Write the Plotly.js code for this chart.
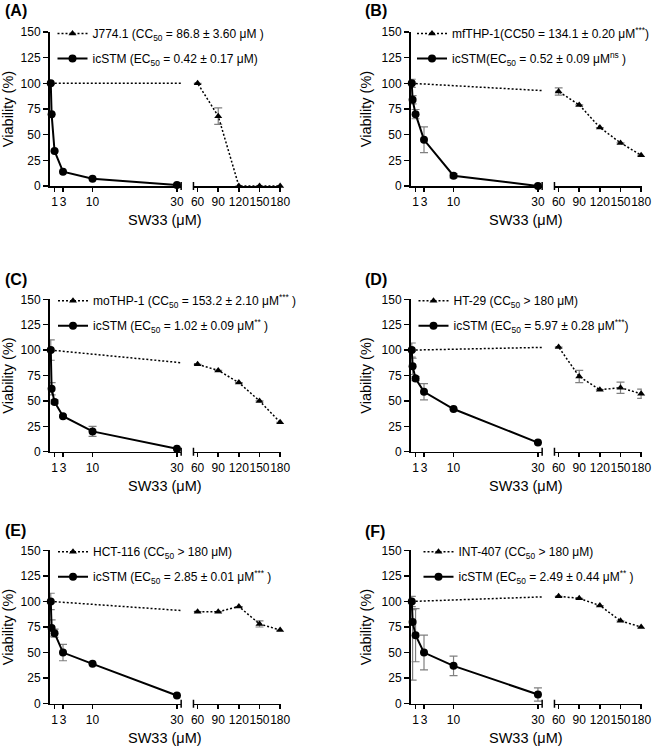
<!DOCTYPE html>
<html><head><meta charset="utf-8">
<script src="https://cdn.plot.ly/plotly-3.0.1.min.js"></script>
<style>html,body{margin:0;padding:0;background:#fff}#chart{width:662px;height:747px}</style>
</head><body><div id="chart"></div>
<script>
// ---------- data ----------
const icConc = [0.1, 0.3, 1, 3, 10, 30];          // icSTM concentrations (µM)
const hostConc = [0.1, 60, 90, 120, 150, 180];   // host-cell concentrations (µM)
const leftTicks = [1, 3, 10, 30];
const rightTicks = [60, 90, 120, 150, 180];
const yTicks = [0, 25, 50, 75, 100, 125, 150];
const panelLabels = ['(A)', '(B)', '(C)', '(D)', '(E)', '(F)'];

const hostNames = [
  'J774.1 (CC<sub>50</sub> = 86.8 ± 3.60 μM )',
  'mfTHP-1(CC50 = 134.1 ± 0.20 μM<sup>***</sup>)',
  'moTHP-1 (CC<sub>50</sub> = 153.2 ± 2.10 μM<sup>***</sup> )',
  'HT-29 (CC<sub>50</sub> &gt; 180 μM)',
  'HCT-116 (CC<sub>50</sub> &gt; 180 μM)',
  'INT-407 (CC<sub>50</sub> &gt; 180 μM)'
];
const icNames = [
  'icSTM (EC<sub>50</sub> = 0.42 ± 0.17 μM)',
  'icSTM(EC<sub>50</sub> = 0.52 ± 0.09 μM<sup>ns</sup> )',
  'icSTM (EC<sub>50</sub> = 1.02 ± 0.09 μM<sup>**</sup> )',
  'icSTM (EC<sub>50</sub> = 5.97 ± 0.28 μM<sup>***</sup>)',
  'icSTM (EC<sub>50</sub> = 2.85 ± 0.01 μM<sup>***</sup> )',
  'icSTM (EC<sub>50</sub> = 2.49 ± 0.44 μM<sup>**</sup> )'
];

// host-cell viability (%) and SEM
const hostA = [100, 100, 68, 0, 0, 0];      const hostErrA = [0, 0, 8, 0, 0, 0];
const hostB = [100, 92, 79, 57, 42, 30];    const hostErrB = [0, 3.5, 0, 0, 0, 0];
const hostC = [100, 86, 80, 68, 50, 29];    const hostErrC = [0, 0, 0, 0, 0, 0];
const hostD = [100, 103, 74, 61, 63, 57];   const hostErrD = [0, 0, 6, 0, 5.5, 4.5];
const hostE = [100, 90, 90, 95, 78, 72];    const hostErrE = [0, 0, 0, 0, 3, 0];
const hostF = [100, 105, 103, 96, 81, 75];  const hostErrF = [0, 0, 0, 0, 0, 0];

// intracellular S. Typhimurium viability (%) and SEM (upper / lower)
const icA = [100, 70, 34, 14, 7, 1];   const icErrUpA = [0, 0, 0, 0, 0, 0];        const icErrLoA = [0, 0, 0, 0, 0, 0];
const icB = [100, 84, 70, 45, 10, 0];  const icErrUpB = [4, 4, 4.5, 12.5, 2, 0];   const icErrLoB = [4, 4, 4.5, 12.5, 2, 0];
const icC = [100, 62, 49, 35, 20, 3];  const icErrUpC = [10, 6, 2, 1, 5, 0];       const icErrLoC = [10, 6, 2, 1, 5, 0];
const icD = [100, 84, 72, 59, 42, 9];  const icErrUpD = [7, 8, 2, 8, 0, 0];        const icErrLoD = [7, 8, 2, 8, 0, 0];
const icE = [100, 74, 69, 50, 39, 8];  const icErrUpE = [8, 8, 4, 8, 0, 0];        const icErrLoE = [8, 8, 4, 8, 0, 0];
const icF = [100, 80, 67, 50, 37, 9];  const icErrUpF = [5, 12, 26, 17, 9.5, 6.5]; const icErrLoF = [5, 57, 26, 17, 9.5, 6.5];

const hostVals = [hostA, hostB, hostC, hostD, hostE, hostF];
const hostErrs = [hostErrA, hostErrB, hostErrC, hostErrD, hostErrE, hostErrF];
const icVals = [icA, icB, icC, icD, icE, icF];
const icErrsUp = [icErrUpA, icErrUpB, icErrUpC, icErrUpD, icErrUpE, icErrUpF];
const icErrsLo = [icErrLoA, icErrLoB, icErrLoC, icErrLoD, icErrLoE, icErrLoF];

// ---------- geometry ----------
const W = 662, H = 747;
const FONT = 'Liberation Sans, Arial, Helvetica, sans-serif';
const L0 = -0.2, L1 = 31, R0 = 54, R1 = 181;     // broken x-axis segment ranges
const pxL = 4.22, pxR = 0.688, gapPx = 12.3;    // px per unit in each segment, gap width
const wL = (L1 - L0) * pxL, wR = (R1 - R0) * pxR, wTot = wL + gapPx + wR;
const fL = wL / wTot, fR0 = (wL + gapPx) / wTot;
// broken-axis transform onto a normalised [0,1] axis
function brk(x) { return x <= 45 ? fL * (x - L0) / (L1 - L0) : fR0 + (1 - fR0) * (x - R0) / (R1 - R0); }

const colLeft = [49.5, 410.5];
const rowTB = [[32, 186], [299.3, 451.7], [550.3, 703.7]];
const legTextX = [92.5, 452, 93, 453.5, 93, 458.5];
const labelY = [10.5, 10.8, 279.5, 279.5, 530, 531];
const fx = p => p / W, fy = p => 1 - p / H;

const data = [], layout = {
  width: W, height: H, margin: {l: 0, r: 0, t: 0, b: 0},
  paper_bgcolor: 'white', plot_bgcolor: 'rgba(0,0,0,0)',
  font: {family: FONT, size: 12, color: 'black'},
  showlegend: true, shapes: [], annotations: []
};
const axName = (k, n) => k + 'axis' + (n === 1 ? '' : n);
const axId = (k, n) => k + (n === 1 ? '' : n);

for (let i = 0; i < 6; i++) {
  const col = i % 2, row = Math.floor(i / 2);
  const left = colLeft[col], right = left + wTot;
  const [top, bottom] = rowTB[row];
  const d0 = fx(left), d1 = fx(right);
  const nD = 3 * i + 1, nL = 3 * i + 2, nR = 3 * i + 3, nY = i + 1;
  const xD = axId('x', nD), yId = axId('y', nY);
  const legKey = i === 0 ? 'legend' : 'legend' + (i + 1);

  layout[axName('x', nD)] = {domain: [d0, d1], range: [0, 1], anchor: yId, visible: false, fixedrange: true};
  const segCommon = {anchor: yId, showline: true, linecolor: 'black', linewidth: 1.5,
    ticks: 'outside', ticklen: 4, tickwidth: 1.5, tickcolor: 'black', showgrid: false, zeroline: false,
    tickmode: 'array', tickangle: 0, tickfont: {size: 12, family: FONT, color: 'black'}, fixedrange: true};
  layout[axName('x', nL)] = Object.assign({}, segCommon, {domain: [d0, d0 + fL * (d1 - d0)], range: [L0, L1], tickvals: leftTicks, ticktext: leftTicks.map(String)});
  layout[axName('x', nR)] = Object.assign({}, segCommon, {domain: [d0 + fR0 * (d1 - d0), d1], range: [R0, R1], tickvals: rightTicks, ticktext: rightTicks.map(String)});
  layout[axName('y', nY)] = {domain: [fy(bottom), fy(top)], range: [0, 150], anchor: axId('x', nL),
    showline: true, linecolor: 'black', linewidth: 1.5, ticks: 'outside', ticklen: 5, tickwidth: 1.5, tickcolor: 'black',
    tickmode: 'array', tickvals: yTicks, tickangle: 0, showgrid: false, zeroline: false, fixedrange: true,
    tickfont: {size: 12, family: FONT, color: 'black'},
    title: {text: 'Viability (%)', font: {size: 14.5, family: FONT, color: 'black'}, standoff: 6}};

  // empty traces so that the two visible axis segments are created
  [axId('x', nL), axId('x', nR)].forEach(xa => data.push({type: 'scatter', x: [], y: [], xaxis: xa, yaxis: yId,
    showlegend: false, hoverinfo: 'skip'}));

  data.push({
    type: 'scatter', mode: 'lines+markers', name: hostNames[i],
    x: hostConc.map(brk), y: hostVals[i], xaxis: xD, yaxis: yId, legend: legKey, legendgroup: 'h' + i,
    line: {color: 'black', width: 1.5, dash: '2px,2px'},
    marker: {symbol: 'triangle-up', size: 7, color: 'black'},
    error_y: {type: 'data', array: hostErrs[i], visible: true, color: '#808080', thickness: 1.2, width: 4},
    cliponaxis: false
  });
  data.push({
    type: 'scatter', mode: 'lines+markers', name: icNames[i],
    x: icConc.map(brk), y: icVals[i], xaxis: xD, yaxis: yId, legend: legKey, legendgroup: 'c' + i,
    line: {color: 'black', width: 2},
    marker: {symbol: 'circle', size: 8, color: 'black'},
    error_y: {type: 'data', symmetric: false, array: icErrsUp[i], arrayminus: icErrsLo[i], visible: true, color: '#808080', thickness: 1.2, width: 4},
    cliponaxis: false
  });

  layout[legKey] = {x: fx(legTextX[i] - 40), xanchor: 'left', y: fy(top - 13), yanchor: 'top',
    bgcolor: 'rgba(0,0,0,0)', borderwidth: 0, tracegroupgap: 6, traceorder: 'grouped',
    font: {family: FONT, size: 12, color: 'black'}};

  // hide connecting line inside the axis break
  layout.shapes.push({type: 'rect', layer: 'above', xref: xD, yref: yId, x0: fL, x1: fR0, y0: -5, y1: 117,
    fillcolor: 'white', line: {width: 0}});
  // break marks
  [fL, fR0].forEach(xb => layout.shapes.push({type: 'line', layer: 'above', xref: xD, yref: 'paper',
    x0: xb, x1: xb, y0: fy(bottom + 4), y1: fy(bottom - 4), line: {color: 'black', width: 1.5}}));

  layout.annotations.push({text: '<b>' + panelLabels[i] + '</b>', xref: 'paper', yref: 'paper',
    x: fx(col === 0 ? 2.7 : 363.3), y: fy(labelY[i]), xanchor: 'left', yanchor: 'middle', showarrow: false,
    font: {family: FONT, size: 16, color: 'black'}});
  layout.annotations.push({text: 'SW33 (μM)', xref: 'paper', yref: 'paper',
    x: (d0 + d1) / 2, y: fy(bottom + 34), xanchor: 'center', yanchor: 'middle', showarrow: false,
    font: {family: FONT, size: 14.5, color: 'black'}});
}

Plotly.newPlot('chart', data, layout, {staticPlot: true, displayModeBar: false});
</script></body></html>
